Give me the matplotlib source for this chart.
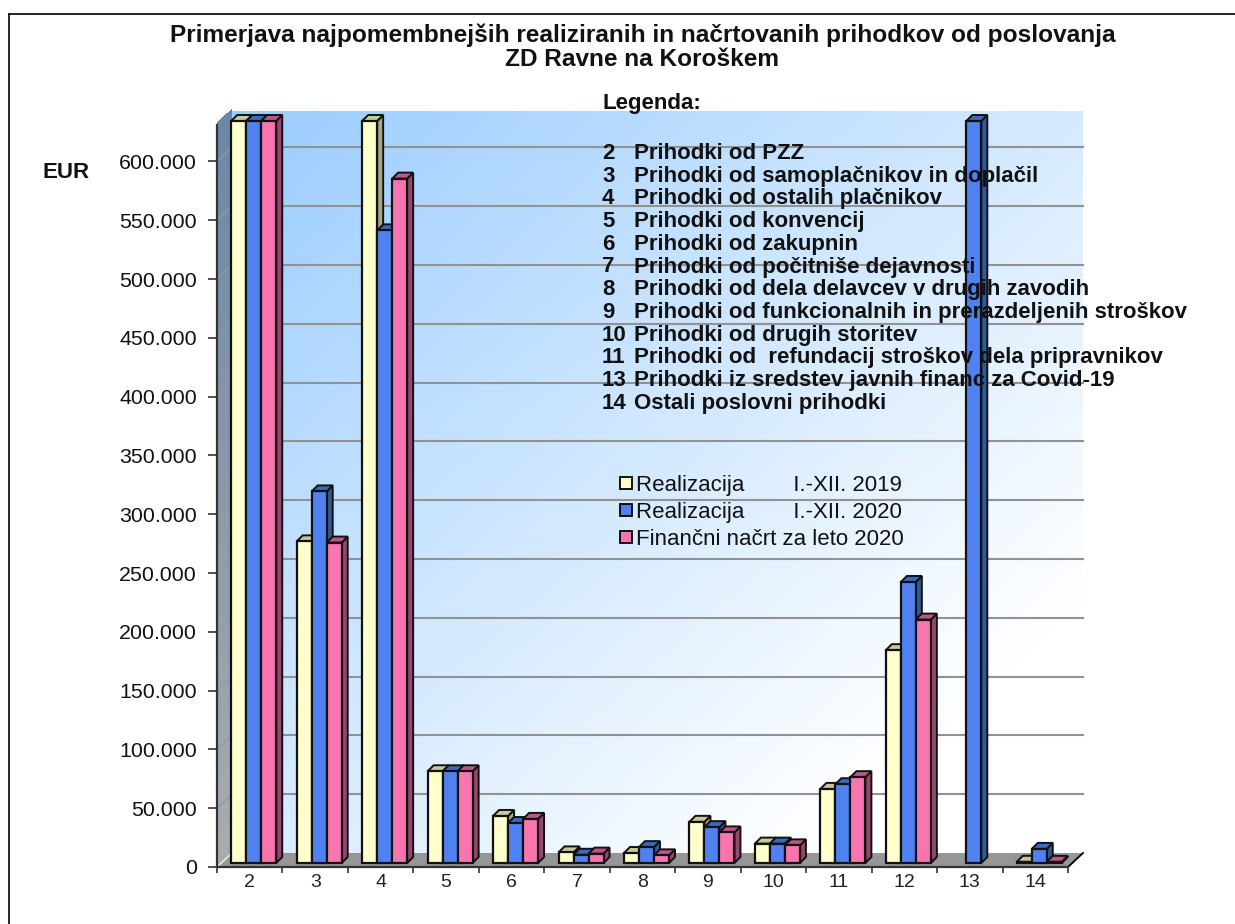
import numpy as np
import matplotlib
matplotlib.use("Agg")
import matplotlib.pyplot as plt
from matplotlib.patches import Patch, Polygon
from matplotlib.lines import Line2D

W, H = 1235, 924
plt.rcParams["font.family"] = ["Liberation Sans", "DejaVu Sans"]

# --- data ---
categories = ["2", "3", "4", "5", "6", "7", "8", "9", "10", "11", "12", "13", "14"]
AXIS_MAX = 631000
real_2019 = [AXIS_MAX, 273500, AXIS_MAX, 78000, 40000, 9000, 8500, 35000, 16500, 63000, 181000, 0, 1000]
real_2020 = [AXIS_MAX, 316000, 538000, 78000, 34000, 7000, 13500, 30500, 16500, 67000, 239000, AXIS_MAX, 12000]
plan_2020 = [AXIS_MAX, 272500, 582000, 78000, 37500, 8000, 6500, 26000, 15000, 73000, 207000, 0, 1000]
series_labels = ["Realizacija        I.-XII. 2019", "Realizacija        I.-XII. 2020", "Finančni načrt za leto 2020"]
y_ticks = [0, 50000, 100000, 150000, 200000, 250000, 300000, 350000, 400000, 450000, 500000, 550000, 600000]
y_tick_labels = ["0", "50.000", "100.000", "150.000", "200.000", "250.000", "300.000", "350.000", "400.000",
                 "450.000", "500.000", "550.000", "600.000"]
legend_codes = ["2", "3", "4", "5", "6", "7", "8", "9", "10", "11", "13", "14"]
legend_names = ["Prihodki od PZZ", "Prihodki od samoplačnikov in doplačil", "Prihodki od ostalih plačnikov",
                "Prihodki od konvencij", "Prihodki od zakupnin", "Prihodki od počitniše dejavnosti",
                "Prihodki od dela delavcev v drugih zavodih", "Prihodki od funkcionalnih in prerazdeljenih stroškov",
                "Prihodki od drugih storitev", "Prihodki od  refundacij stroškov dela pripravnikov",
                "Prihodki iz sredstev javnih financ za Covid-19", "Ostali poslovni prihodki"]

# colours: front, side, top
colours = [("#FFFFCC", "#A8A884", "#C8C898"),
           ("#4F82F0", "#2F5A9E", "#3A68C4"),
           ("#F875B0", "#98466E", "#C05488")]

# --- layout (pixels of the reference) ---
LEFT, RIGHT, BOTTOM, TOP = 217, 1068, 867, 125
px_x = (RIGHT - LEFT) / len(categories)
px_y = (BOTTOM - TOP) / AXIS_MAX


def to_u(px):
    return px / px_x


def to_v(px):
    return px / px_y


def fx(x):
    return x / W


def fy(y):
    return 1 - y / H


fig = plt.figure(figsize=(W / 100, H / 100), dpi=100, facecolor="white")
ax = fig.add_axes([fx(LEFT), fy(BOTTOM), (RIGHT - LEFT) / W, (BOTTOM - TOP) / H])
n = len(categories)
wall_du, wall_dv = to_u(15), to_v(14)

# back wall with diagonal gradient
u, v = np.meshgrid(np.linspace(0, 1, 300), np.linspace(0, 1, 300))
f = np.clip((u + v) / 2 * 1.2, 0, 1)[..., None]
grad = np.array([153, 204, 255]) / 255 * (1 - f) + f
ax.imshow(grad, extent=(wall_du, n + wall_du, wall_dv, AXIS_MAX + wall_dv), aspect="auto",
          origin="upper", zorder=1, clip_on=False, interpolation="bilinear")

# side wall
levels = np.linspace(0, 1, 80)
for a, b in zip(levels[:-1], levels[1:]):
    c = np.array([108, 135, 165]) * (1 - a) + np.array([168, 172, 176]) * a
    y0, y1 = AXIS_MAX * (1 - b), AXIS_MAX * (1 - a) + 1500
    ax.add_patch(Polygon([(0, y0), (wall_du, y0 + wall_dv), (wall_du, y1 + wall_dv), (0, y1)],
                         closed=True, fc=c / 255, ec="none", zorder=1, clip_on=False, antialiased=False))

# floor
ax.add_patch(Polygon([(0, 0), (n, 0), (n + wall_du, wall_dv), (wall_du, wall_dv)], closed=True,
                     fc="#969696", ec="none", zorder=2, clip_on=False))
ax.plot([0, wall_du], [0, wall_dv], color="#E8E8E8", lw=1.2, zorder=2.5, clip_on=False)
ax.plot([n, n + wall_du], [0, wall_dv], color="black", lw=1.3, zorder=2.5, clip_on=False)

# grid lines on the wall
for t in y_ticks[1:]:
    ax.plot([wall_du, n + wall_du], [t + wall_dv, t + wall_dv], color="#929292", lw=1.5, zorder=2, clip_on=False)
    ax.plot([0, wall_du], [t, t + wall_dv], color="#8E9AA6", lw=1.0, zorder=2, clip_on=False)

# bars: drawn left to right so that fronts cover the sides of their neighbours
bar_w = to_u(15)
shift_u, shift_v = to_u(4), to_v(4)
depth_u, depth_v = to_u(6), to_v(6)
x = np.arange(n) + 0.5
for k, vals in enumerate([real_2019, real_2020, plan_2020]):
    front, side, top = colours[k]
    pos = x + (k - 1) * bar_w + shift_u
    z = 4 + k
    for p, val in zip(pos, vals):
        if val == 0:
            continue
        r = p + bar_w / 2
        l = p - bar_w / 2
        ax.add_patch(Polygon([(r, shift_v), (r + depth_u, shift_v + depth_v),
                              (r + depth_u, shift_v + val + depth_v), (r, shift_v + val)],
                             closed=True, fc=side, ec="#111111", lw=1.4, zorder=z, clip_on=False))
        ax.add_patch(Polygon([(l, shift_v + val), (r, shift_v + val),
                              (r + depth_u, shift_v + val + depth_v), (l + depth_u, shift_v + val + depth_v)],
                             closed=True, fc=top, ec="#111111", lw=1.4, zorder=z, clip_on=False))
    heights = np.array(vals, dtype=float)
    ax.bar(pos[heights > 0], heights[heights > 0], bar_w, bottom=shift_v, color=front, edgecolor="#111111",
           linewidth=1.6, zorder=z + 0.5, clip_on=False)

# axes
ax.set_xlim(0, n)
ax.set_ylim(0, AXIS_MAX)
for s in ["top", "right"]:
    ax.spines[s].set_visible(False)
for s in ["left", "bottom"]:
    ax.spines[s].set_color("#333333")
    ax.spines[s].set_linewidth(1.6)
    ax.spines[s].set_zorder(3)
ax.set_yticks(y_ticks)
ax.set_yticklabels(y_tick_labels, fontsize=15.4, color="#111111")
ax.set_xticks(np.arange(n + 1))
ax.set_xticklabels([])
ax.set_xticks(x, categories, minor=True, fontsize=14, color="#222222")
ax.tick_params(axis="y", length=6.5, width=1.2, color="#333333", pad=8)
ax.tick_params(axis="x", which="major", length=4, width=1.2, color="#333333")
ax.tick_params(axis="x", which="minor", length=0, pad=5)

# titles and notes
fig.text(fx(643), fy(35), "Primerjava najpomembnejših realiziranih in načrtovanih prihodkov od poslovanja",
         fontsize=17.6, fontweight="bold", ha="center", va="center", color="#111111")
fig.text(fx(642), fy(60), "ZD Ravne na Koroškem", fontsize=17.6, fontweight="bold", ha="center", va="center",
         color="#111111")
fig.text(fx(43), fy(172), "EUR", fontsize=16, fontweight="bold", va="center", color="#111111")
fig.text(fx(603), fy(104), "Legenda:", fontsize=16, fontweight="bold", va="center", color="#111111")

for i, (code, name) in enumerate(zip(legend_codes, legend_names)):
    y = 153.5 + i * 22.7
    fig.text(fx(602), fy(y), code, fontsize=16, fontweight="bold", va="center", color="#111111")
    fig.text(fx(634), fy(y), name, fontsize=16, fontweight="bold", va="center", color="#111111")

# series legend
handles = [Patch(fc=c[0], ec="black", lw=1.3) for c in colours]
fig.legend(handles, series_labels, loc="upper left", bbox_to_anchor=(fx(620), fy(475)), frameon=False,
           fontsize=16, borderpad=0, borderaxespad=0, handlelength=0.54, handleheight=0.4,
           handletextpad=0.2, labelspacing=0.27, labelcolor="#111111")

# picture frame
fig.add_artist(Line2D([fx(8.5), fx(8.5)], [fy(924), fy(13.5)], color="black", lw=1.2))
fig.add_artist(Line2D([fx(8.5), fx(1235)], [fy(13.5), fy(13.5)], color="black", lw=1.2))

fig.savefig("out.png", dpi=100)
